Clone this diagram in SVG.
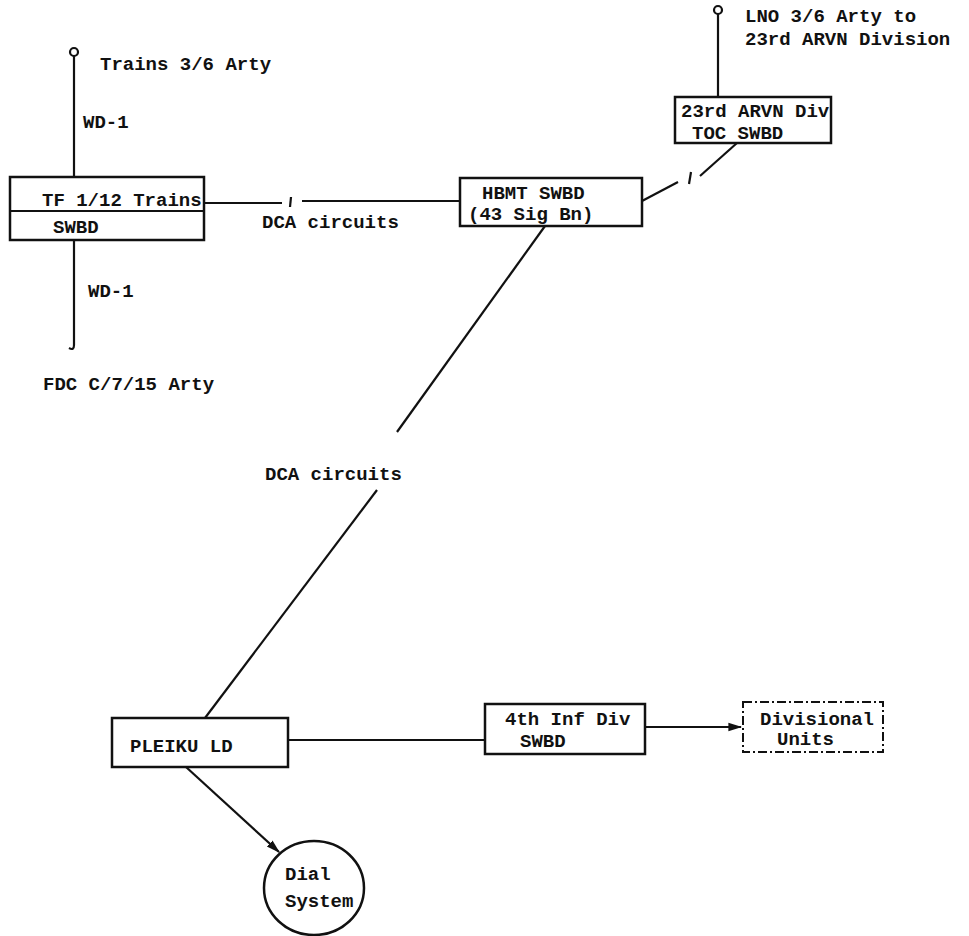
<svg xmlns="http://www.w3.org/2000/svg" width="969" height="936" viewBox="0 0 969 936">
<style>
  .t { font-family: "Liberation Mono", "Courier New", monospace; font-size: 19px; font-weight: bold; fill: #111; }
  .box { fill: none; stroke: #111; stroke-width: 2.5; }
  .dash { fill: none; stroke: #111; stroke-width: 2; stroke-dasharray: 9 3 2 3; }
  .ln { fill: none; stroke: #111; stroke-width: 2.2; }
</style>
<defs>
  <marker id="arr" viewBox="0 0 10 10" refX="9" refY="5" markerWidth="7" markerHeight="7" orient="auto" markerUnits="userSpaceOnUse">
    <path d="M0,1 L10,5 L0,9 Z" fill="#111"/>
  </marker>
  <marker id="arrL" viewBox="0 0 10 10" refX="9" refY="5" markerWidth="14" markerHeight="14" orient="auto" markerUnits="userSpaceOnUse">
    <path d="M0,2 L10,5 L0,8 Z" fill="#111"/>
  </marker>
</defs>
<rect width="969" height="936" fill="#fff"/>

<g id="trains36">
  <circle cx="74" cy="52" r="4" class="ln"/>
  <text class="t" x="100" y="70">Trains 3/6 Arty</text>
</g>
<g id="tf112">
  <rect class="box" x="10" y="177" width="194" height="63"/>
  <line class="ln" x1="10" y1="211" x2="204" y2="211"/>
  <text class="t" x="42" y="206">TF 1/12 Trains</text>
  <text class="t" x="53" y="233">SWBD</text>
</g>
<g id="fdc">
  <text class="t" x="43" y="390">FDC C/7/15 Arty</text>
</g>
<g id="hbmt">
  <rect class="box" x="460" y="178" width="182" height="48"/>
  <text class="t" x="482" y="199">HBMT SWBD</text>
  <text class="t" x="468" y="220">(43 Sig Bn)</text>
</g>
<g id="arvn23">
  <rect class="box" x="675" y="97" width="156" height="46"/>
  <text class="t" x="681" y="117">23rd ARVN Div</text>
  <text class="t" x="692" y="139">TOC SWBD</text>
</g>
<g id="lno">
  <circle cx="718" cy="10" r="4" class="ln"/>
  <text class="t" x="745" y="22">LNO 3/6 Arty to</text>
  <text class="t" x="745" y="45">23rd ARVN Division</text>
</g>
<g id="pleiku">
  <rect class="box" x="112" y="718" width="176" height="49"/>
  <text class="t" x="130" y="752">PLEIKU LD</text>
</g>
<g id="inf4">
  <rect class="box" x="485" y="704" width="160" height="50"/>
  <text class="t" x="505" y="725">4th Inf Div</text>
  <text class="t" x="520" y="747">SWBD</text>
</g>
<g id="divunits">
  <rect class="dash" x="743" y="702" width="140" height="50"/>
  <text class="t" x="760" y="725">Divisional</text>
  <text class="t" x="777" y="745">Units</text>
</g>
<g id="dial">
  <ellipse class="box" cx="314" cy="888" rx="50" ry="47"/>
  <text class="t" x="285" y="880">Dial</text>
  <text class="t" x="285" y="907">System</text>
</g>

<g id="connectors">
  <line class="ln" x1="74" y1="56" x2="74" y2="177"/>
  <text class="t" x="83" y="128">WD-1</text>
  <path class="ln" d="M74,240 V345 q0,6 -5,3"/>
  <text class="t" x="88" y="297">WD-1</text>
  <line class="ln" x1="204" y1="203" x2="282" y2="203"/>
  <line class="ln" x1="291" y1="197" x2="290" y2="207"/>
  <line class="ln" x1="302" y1="201" x2="460" y2="201"/>
  <text class="t" x="262" y="228">DCA circuits</text>
  <line class="ln" x1="718" y1="14" x2="718" y2="97"/>
  <line class="ln" x1="642" y1="201" x2="678" y2="182"/>
  <line class="ln" x1="691" y1="172" x2="689" y2="184"/>
  <line class="ln" x1="700" y1="176" x2="737" y2="143"/>
  <line class="ln" x1="545" y1="226" x2="397" y2="432"/>
  <text class="t" x="265" y="480">DCA circuits</text>
  <line class="ln" x1="377" y1="490" x2="205" y2="718"/>
  <line class="ln" x1="288" y1="740" x2="485" y2="740"/>
  <line class="ln" x1="645" y1="727" x2="741" y2="727" marker-end="url(#arrL)"/>
  <line class="ln" x1="186" y1="767" x2="279" y2="852" marker-end="url(#arrL)"/>
</g>
</svg>
